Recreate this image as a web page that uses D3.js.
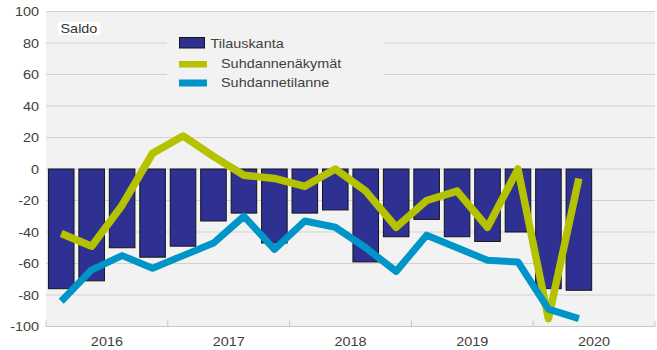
<!DOCTYPE html>
<html>
<head>
<meta charset="utf-8">
<script src="https://cdn.jsdelivr.net/npm/d3@7"></script>
<style>
  html, body { margin: 0; padding: 0; background: #ffffff; }
  svg { display: block; font-family: "Liberation Sans", Arial, sans-serif; }
</style>
</head>
<body>
<svg id="chart" width="657" height="350"></svg>
<script>
// Quarterly slots on the time axis (2016 Q1 – 2020 Q4)
const quarters = [
  "2016Q1","2016Q2","2016Q3","2016Q4",
  "2017Q1","2017Q2","2017Q3","2017Q4",
  "2018Q1","2018Q2","2018Q3","2018Q4",
  "2019Q1","2019Q2","2019Q3","2019Q4",
  "2020Q1","2020Q2","2020Q3","2020Q4"
];
// Observed quarters (2016 Q1 – 2020 Q2)
const observed = quarters.slice(0, 18);

// Saldo values
const tilauskanta     = [-76, -71, -50, -56, -49, -33, -28, -47, -28, -26, -59, -43, -32, -43, -46, -40, -76, -77];
const suhdannenakymat = [-41, -49, -23, 10, 21, 8, -4, -6, -11, 0, -14, -37, -20, -14, -37, 0, -95, -6];
const suhdannetilanne = [-84, -64, -55, -63, -55, -47, -30, -51, -33, -37, -50, -65, -42, -50, -58, -59, -89, -95];

const years = [2016, 2017, 2018, 2019, 2020];
const yTicks = [100, 80, 60, 40, 20, 0, -20, -40, -60, -80, -100];

const seriesNames = ["Tilauskanta", "Suhdannenäkymät", "Suhdannetilanne"];
const colors = { bar: "#2e3192", barStroke: "#151515", yellow: "#b5c200", blue: "#0095c8" };

const svg = d3.select("#chart");
const plotLeft = 46, plotRight = 655, plotTop = 11.5, plotBottom = 326.5;
const stretch = 1.11;

const x = d3.scaleBand().domain(quarters).range([plotLeft, plotRight]).paddingInner(0.16).paddingOuter(0.08);
const xYear = d3.scaleLinear().domain([2016, 2021]).range([plotLeft, plotRight]);
const y = d3.scaleLinear().domain([-100, 100]).range([plotBottom, plotTop]);

function label(sel, tx, ty) {
  return sel.attr("transform", `translate(${tx},${ty}) scale(${stretch},1)`);
}

// Plot background
svg.append("rect")
  .attr("x", plotLeft).attr("y", y(100))
  .attr("width", plotRight - plotLeft).attr("height", y(-100) - y(100))
  .attr("fill", "#f2f2f2");

// Horizontal gridlines
svg.append("g").selectAll("line").data(yTicks).join("line")
  .attr("x1", plotLeft).attr("x2", plotRight)
  .attr("y1", d => y(d)).attr("y2", d => y(d))
  .attr("stroke", "#d2d2d2").attr("stroke-width", 1.2);

// Y tick labels
svg.append("g").selectAll("text").data(yTicks).join("text")
  .each(function(d) { label(d3.select(this), 39, y(d)); })
  .attr("text-anchor", "end").attr("dy", "0.36em")
  .attr("font-size", 13).attr("fill", "#404040")
  .text(d => d);

// Year separators and labels
svg.append("g").selectAll("line").data(years.concat([2021])).join("line")
  .attr("x1", d => xYear(d)).attr("x2", d => xYear(d))
  .attr("y1", plotBottom - 6).attr("y2", plotBottom)
  .attr("stroke", "#c8c8c8").attr("stroke-width", 1);
svg.append("line")
  .attr("x1", plotLeft).attr("x2", plotRight).attr("y1", plotBottom).attr("y2", plotBottom)
  .attr("stroke", "#c8c8c8").attr("stroke-width", 1.2);
svg.append("g").selectAll("text").data(years).join("text")
  .each(function(d) { label(d3.select(this), xYear(d + 0.5), 346); })
  .attr("text-anchor", "middle")
  .attr("font-size", 13).attr("fill", "#404040")
  .text(d => d);

// Legend background (covers gridlines)
svg.append("rect")
  .attr("x", 167).attr("y", 28).attr("width", 217).attr("height", 66)
  .attr("fill", "#f2f2f2");

// "Saldo" label
svg.append("rect")
  .attr("x", 58).attr("y", 22).attr("width", 42).attr("height", 13)
  .attr("fill", "#ffffff");
label(svg.append("text"), 60.5, 33)
  .attr("font-size", 13).attr("fill", "#333333").text("Saldo");

// Bars
svg.append("g").selectAll("rect").data(observed).join("rect")
  .attr("x", d => x(d))
  .attr("width", x.bandwidth())
  .attr("y", y(0))
  .attr("height", (d, i) => y(tilauskanta[i]) - y(0))
  .attr("fill", colors.bar)
  .attr("stroke", colors.barStroke).attr("stroke-width", 1);

// Lines
const line = d3.line()
  .x((d, i) => x(observed[i]) + x.bandwidth() / 2)
  .y(d => y(d));

svg.append("path").datum(suhdannenakymat)
  .attr("d", line).attr("fill", "none")
  .attr("stroke", colors.yellow).attr("stroke-width", 7.5)
  .attr("stroke-linejoin", "round").attr("stroke-linecap", "butt");

svg.append("path").datum(suhdannetilanne)
  .attr("d", line).attr("fill", "none")
  .attr("stroke", colors.blue).attr("stroke-width", 7)
  .attr("stroke-linejoin", "round").attr("stroke-linecap", "butt");

// Legend
const lg = svg.append("g");
lg.append("rect").attr("x", 179.5).attr("y", 37.5).attr("width", 25).attr("height", 10.5)
  .attr("fill", colors.bar).attr("stroke", colors.barStroke).attr("stroke-width", 1);
lg.append("rect").attr("x", 179).attr("y", 61).attr("width", 28).attr("height", 6.5)
  .attr("fill", colors.yellow);
lg.append("rect").attr("x", 179).attr("y", 79.5).attr("width", 28).attr("height", 7)
  .attr("fill", colors.blue);
label(lg.append("text"), 210.5, 47.5).attr("font-size", 13).attr("fill", "#404040").text(seriesNames[0]);
label(lg.append("text"), 221, 67.5).attr("font-size", 13).attr("fill", "#404040").text(seriesNames[1]);
label(lg.append("text"), 221, 87).attr("font-size", 13).attr("fill", "#404040").text(seriesNames[2]);
</script>
</body>
</html>
